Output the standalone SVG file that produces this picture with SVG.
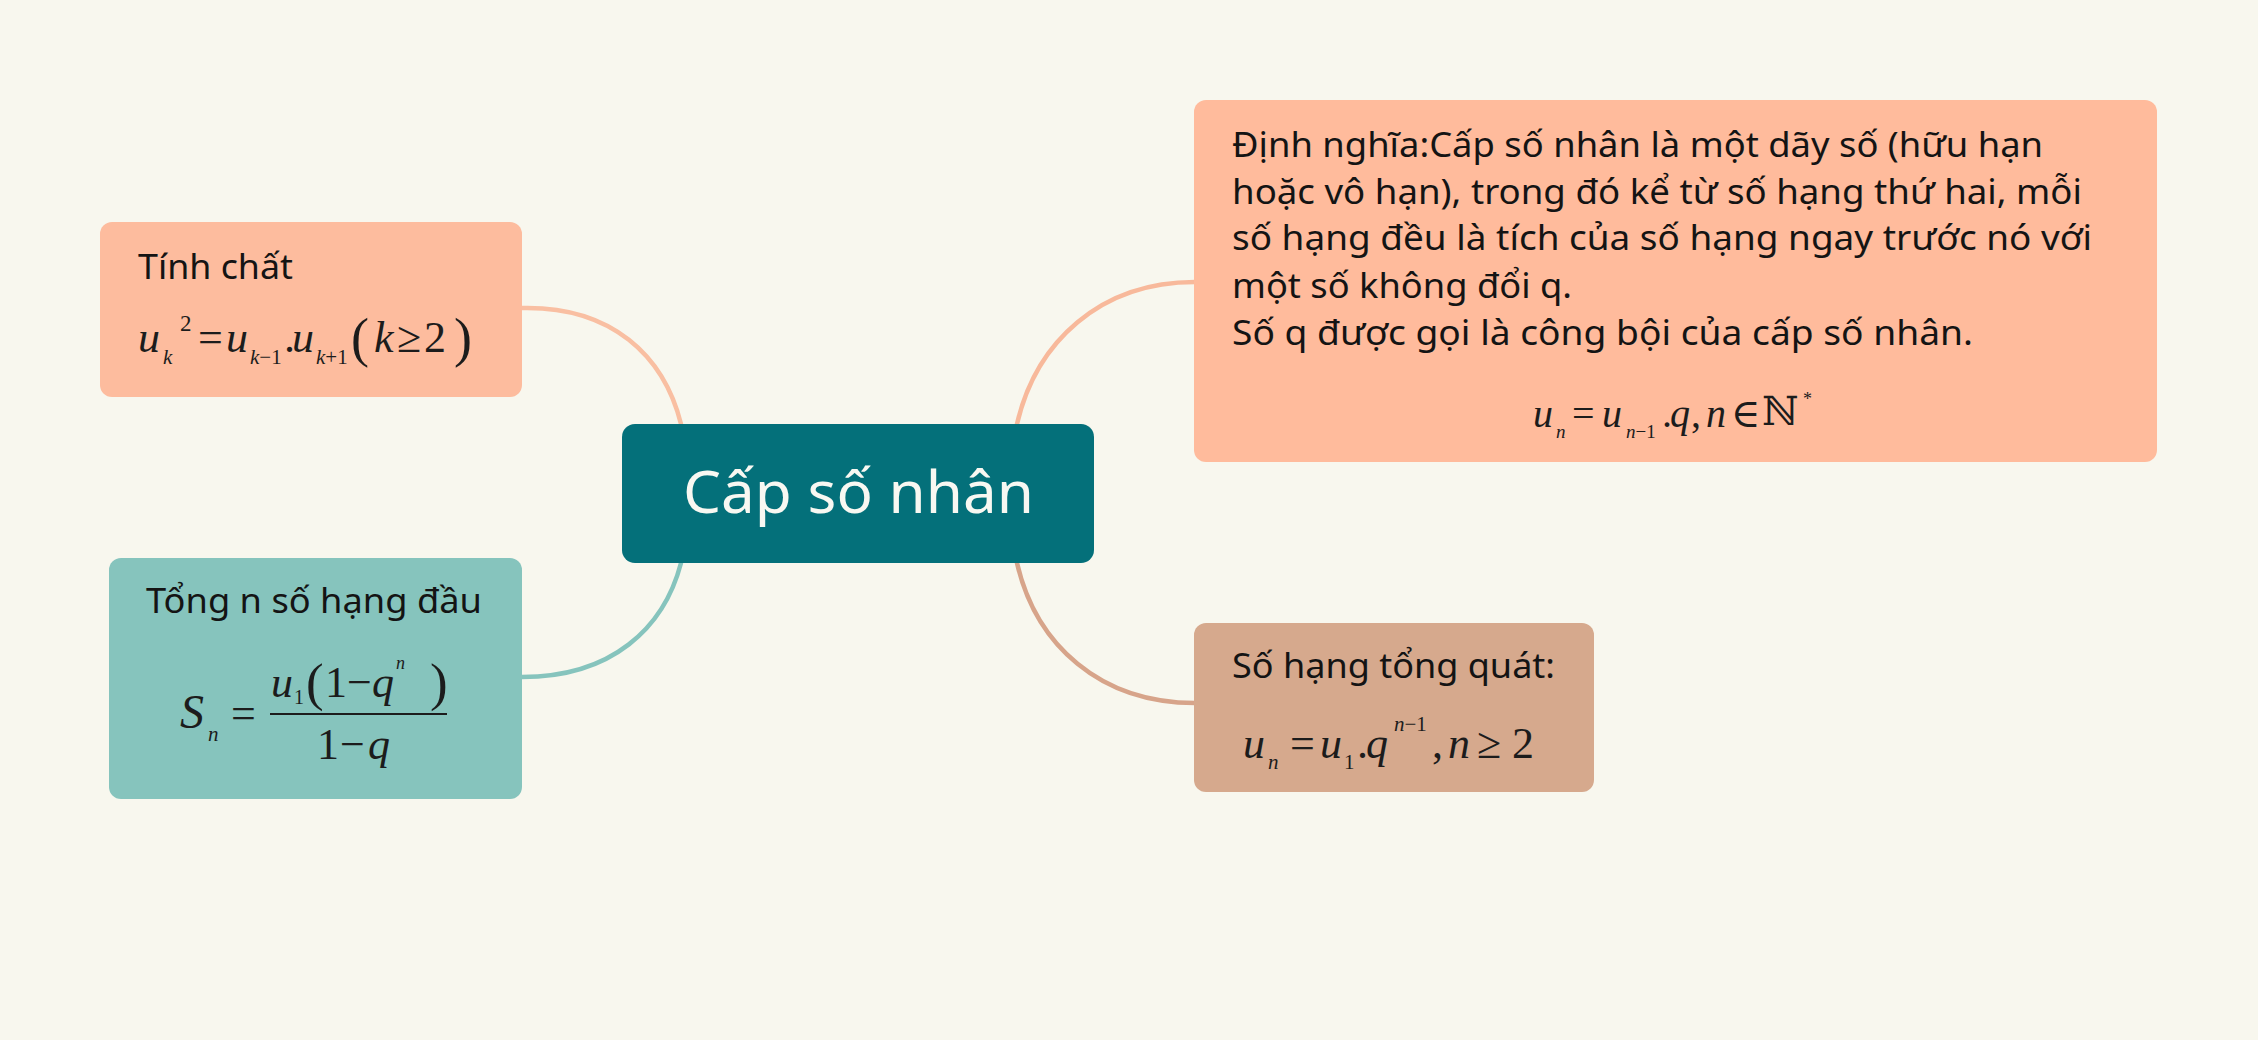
<svg xmlns="http://www.w3.org/2000/svg" width="2258" height="1040" viewBox="0 0 2258 1040">
<style>
.t{font-family:"Noto Sans","Open Sans","DejaVu Sans",sans-serif;fill:#141414}
.m{font-family:"Liberation Serif","Times New Roman","DejaVu Serif",serif;fill:#1c1c1c}
.i{font-style:italic}
.c{fill:none;stroke-width:4.5;stroke-linecap:round}
</style>
<rect width="2258" height="1040" fill="#f8f7ee"/>
<g id="connectors">
<path class="c" stroke="#f9bfa2" d="M522,308 C612,306 664,356 681,424"/>
<path class="c" stroke="#86c4bd" d="M681,563 C664,628 612,677 522,677"/>
<path class="c" stroke="#f8b99b" d="M1017,424 C1036,342 1100,282 1195,282"/>
<path class="c" stroke="#d7a48a" d="M1017,563 C1036,645 1100,703 1195,703"/>
</g>
<g id="center">
<rect x="622" y="424" width="472" height="139" rx="13" fill="#04707a"/>
<text class="t" x="683" y="513" font-size="59" textLength="351" lengthAdjust="spacingAndGlyphs" style="fill:#f8f8f2">Cấp số nhân</text>
</g>
<g id="tinh-chat">
<rect x="100" y="222" width="422" height="175" rx="12" fill="#fdbc9e"/>
<text class="t" x="138" y="279" font-size="35" textLength="155" lengthAdjust="spacingAndGlyphs">Tính chất</text>
<text class="m" font-size="44"><tspan class="i" x="138" y="352">u</tspan><tspan class="i" x="163" y="364" font-size="21">k</tspan><tspan x="180" y="331" font-size="23">2</tspan><tspan x="198" y="352">=</tspan><tspan class="i" x="226" y="352">u</tspan><tspan x="250" y="364" font-size="21"><tspan class="i">k</tspan>−1</tspan><tspan x="284" y="352">.</tspan><tspan class="i" x="292" y="352">u</tspan><tspan x="316" y="364" font-size="21"><tspan class="i">k</tspan>+1</tspan><tspan x="351" y="356" font-size="54">(</tspan><tspan class="i" x="374" y="352">k</tspan><tspan x="397" y="352">≥</tspan><tspan x="424" y="352">2</tspan><tspan x="454" y="356" font-size="54">)</tspan></text>
</g>
<g id="tong">
<rect x="109" y="558" width="413" height="241" rx="12" fill="#86c4bd"/>
<text class="t" x="146" y="613" font-size="35" textLength="336" lengthAdjust="spacingAndGlyphs">Tổng n số hạng đầu</text>
<text class="m" font-size="48"><tspan class="i" x="180" y="728">S</tspan><tspan class="i" x="208" y="741" font-size="21">n</tspan><tspan x="231" y="728" font-size="44">=</tspan></text>
<line x1="270" y1="714" x2="447" y2="714" stroke="#1c1c1c" stroke-width="2"/>
<text class="m" font-size="44"><tspan class="i" x="271" y="697">u</tspan><tspan x="294" y="704" font-size="20">1</tspan><tspan x="306" y="700" font-size="53">(</tspan><tspan x="325" y="697">1</tspan><tspan x="347" y="697">−</tspan><tspan class="i" x="372" y="697">q</tspan><tspan class="i" x="396" y="669" font-size="18">n</tspan><tspan x="430" y="700" font-size="53">)</tspan></text>
<text class="m" font-size="44"><tspan x="317" y="759">1</tspan><tspan x="340" y="759">−</tspan><tspan class="i" x="368" y="759">q</tspan></text>
</g>
<g id="dinh-nghia">
<rect x="1194" y="100" width="963" height="362" rx="12" fill="#ffbb9c"/>
<text class="t" font-size="35">
<tspan x="1232" y="157" textLength="811" lengthAdjust="spacingAndGlyphs">Định nghĩa:Cấp số nhân là một dãy số (hữu hạn</tspan>
<tspan x="1232" y="204" textLength="850" lengthAdjust="spacingAndGlyphs">hoặc vô hạn), trong đó kể từ số hạng thứ hai, mỗi</tspan>
<tspan x="1232" y="250" textLength="860" lengthAdjust="spacingAndGlyphs">số hạng đều là tích của số hạng ngay trước nó với</tspan>
<tspan x="1232" y="298" textLength="340" lengthAdjust="spacingAndGlyphs">một số không đổi q.</tspan>
<tspan x="1232" y="345" textLength="741" lengthAdjust="spacingAndGlyphs">Số q được gọi là công bội của cấp số nhân.</tspan>
</text>
<text class="m" font-size="40"><tspan class="i" x="1533" y="427">u</tspan><tspan class="i" x="1556" y="438" font-size="19">n</tspan><tspan x="1572" y="427">=</tspan><tspan class="i" x="1602" y="427">u</tspan><tspan x="1626" y="438" font-size="19"><tspan class="i">n</tspan>−1</tspan><tspan x="1662" y="427">.</tspan><tspan class="i" x="1670" y="427">q</tspan><tspan x="1691" y="427">,</tspan><tspan class="i" x="1706" y="427">n</tspan><tspan x="1731" y="427">∈</tspan><tspan x="1762" y="425" font-size="40" style="font-family:'DejaVu Serif','DejaVu Sans',serif">ℕ</tspan><tspan x="1803" y="405" font-size="18">*</tspan></text>
</g>
<g id="so-hang">
<rect x="1194" y="623" width="400" height="169" rx="12" fill="#d6a98d"/>
<text class="t" x="1232" y="678" font-size="35" textLength="323" lengthAdjust="spacingAndGlyphs">Số hạng tổng quát:</text>
<text class="m" font-size="44"><tspan class="i" x="1243" y="758">u</tspan><tspan class="i" x="1268" y="769" font-size="21">n</tspan><tspan x="1290" y="758">=</tspan><tspan class="i" x="1320" y="758">u</tspan><tspan x="1344" y="769" font-size="21">1</tspan><tspan x="1357" y="758">.</tspan><tspan class="i" x="1366" y="758">q</tspan><tspan x="1394" y="731" font-size="21"><tspan class="i">n</tspan>−1</tspan><tspan x="1432" y="758">,</tspan><tspan class="i" x="1448" y="758">n</tspan><tspan x="1477" y="758">≥</tspan><tspan x="1512" y="758">2</tspan></text>
</g>
</svg>
